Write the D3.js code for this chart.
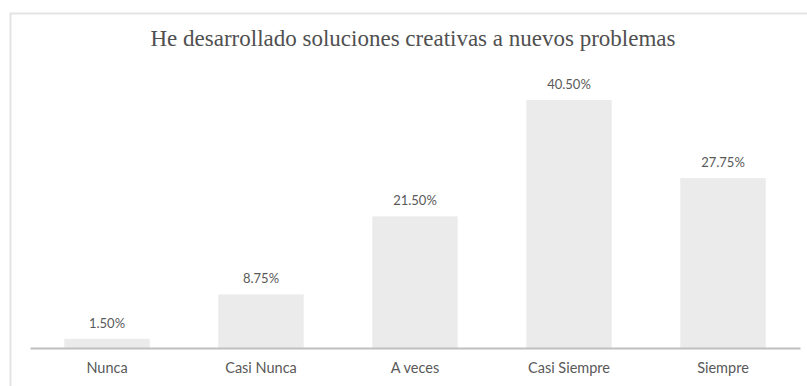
<!DOCTYPE html>
<html>
<head>
<meta charset="utf-8">
<script src="https://cdn.jsdelivr.net/npm/d3@7"></script>
<style>
  body { margin: 0; background: #fff; }
</style>
</head>
<body>
<div id="chart"></div>
<script>
// data
const categories = ["Nunca", "Casi Nunca", "A veces", "Casi Siempre", "Siempre"];
const values = [1.5, 8.75, 21.5, 40.5, 27.75];
const valueLabels = ["1.50%", "8.75%", "21.50%", "40.50%", "27.75%"];
const title = "He desarrollado soluciones creativas a nuevos problemas";

const W = 807, H = 386;
const svg = d3.select("#chart").append("svg")
  .attr("width", W)
  .attr("height", H);

// frame border (top + left)
svg.append("path")
  .attr("d", `M10.5,${H} L10.5,13.5 L${W},13.5`)
  .attr("fill", "none")
  .attr("stroke", "#e4e4e4")
  .attr("stroke-width", 2);

svg.append("text")
  .attr("x", 413)
  .attr("y", 46)
  .attr("text-anchor", "middle")
  .style("font-family", "'Liberation Serif', 'Times New Roman', serif")
  .style("font-size", "23px")
  .style("fill", "#505050")
  .text(title);

const x = d3.scaleBand()
  .domain(categories)
  .range([30, 800])
  .paddingInner(0.445)
  .paddingOuter(0.2225);

const y = d3.scaleLinear()
  .domain([0, 45])
  .range([348, 72.5]);

const data = categories.map((c, i) => ({ cat: c, v: values[i], label: valueLabels[i] }));

svg.selectAll("rect.bar")
  .data(data)
  .enter()
  .append("rect")
  .attr("class", "bar")
  .attr("x", (d) => x(d.cat))
  .attr("y", (d) => y(d.v))
  .attr("width", x.bandwidth())
  .attr("height", (d) => y(0) - y(d.v))
  .attr("fill", "#ebebeb");

svg.selectAll("text.val")
  .data(data)
  .enter()
  .append("text")
  .attr("class", "val")
  .attr("x", (d) => x(d.cat) + x.bandwidth() / 2)
  .attr("y", (d) => y(d.v) - 11)
  .attr("text-anchor", "middle")
  .style("font-family", "Lato, 'Open Sans', sans-serif")
  .style("font-size", "13px")
  .style("fill", "#595959")
  .text((d) => d.label);

// x axis
const xAxis = svg.append("g")
  .attr("transform", `translate(0, ${y(0)})`)
  .call(d3.axisBottom(x).tickSize(0).tickPadding(15));
xAxis.select(".domain")
  .attr("stroke", "#bfbfbf")
  .attr("stroke-width", 2);
xAxis.selectAll("text")
  .style("font-family", "Lato, 'Open Sans', sans-serif")
  .style("font-size", "14.5px")
  .style("fill", "#595959");
</script>
</body>
</html>
